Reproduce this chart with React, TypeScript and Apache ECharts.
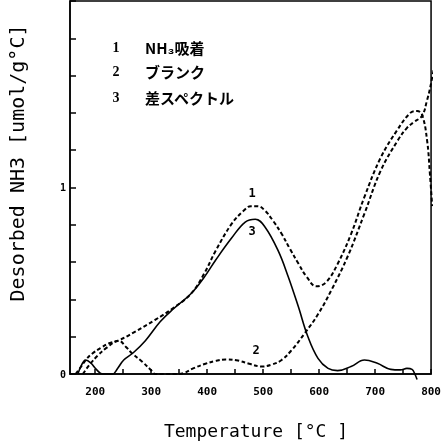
import React, { useEffect, useRef } from "react";
import * as echarts from "echarts";

// Curve 1: NH3 adsorption (dashed)
const curve1X = [165, 175, 183, 195, 210, 225, 242, 270, 307, 340, 371, 395, 415, 444, 465, 478, 490, 503, 518, 533, 548, 563, 578, 595, 613, 633, 657, 681, 710, 740, 763, 775, 784, 793, 798, 802];
const curve1Y = [0, 0.04, 0.075, 0.11, 0.14, 0.165, 0.18, 0.225, 0.29, 0.355, 0.43, 0.54, 0.66, 0.806, 0.875, 0.9, 0.9, 0.877, 0.82, 0.752, 0.67, 0.592, 0.52, 0.47, 0.494, 0.59, 0.75, 0.95, 1.16, 1.31, 1.4, 1.41, 1.39, 1.25, 1.07, 0.9];

// Curve 2: blank (dashed)
const curve2X = [178, 190, 205, 220, 242, 255, 266, 284, 300, 307, 345, 358, 375, 397, 415, 433, 455, 475, 498, 515, 533, 551, 574, 598, 622, 651, 681, 710, 740, 757, 769, 784, 793, 798, 811];
const curve2Y = [0, 0.05, 0.1, 0.14, 0.178, 0.145, 0.11, 0.066, 0.02, 0, 0, 0.005, 0.03, 0.055, 0.07, 0.078, 0.072, 0.055, 0.04, 0.05, 0.075, 0.128, 0.217, 0.32, 0.45, 0.63, 0.86, 1.09, 1.25, 1.32, 1.35, 1.385, 1.47, 1.53, 1.73];

// Curve 3: difference spectrum (solid)
const curve3X = [169, 176, 183, 192, 202, 213, 231, 240, 251, 268, 290, 316, 340, 371, 395, 415, 444, 468, 486, 503, 527, 545, 563, 580, 598, 616, 633, 657, 681, 704, 728, 745, 757, 766, 771, 775];
const curve3Y = [0, 0.05, 0.075, 0.06, 0.025, 0, 0, 0.03, 0.075, 0.114, 0.18, 0.28, 0.35, 0.43, 0.52, 0.61, 0.73, 0.815, 0.83, 0.79, 0.66, 0.52, 0.36, 0.2, 0.084, 0.03, 0.018, 0.04, 0.075, 0.057, 0.025, 0.022, 0.03, 0.025, 0, -0.03];

const xTickLabels = [200, 300, 400, 500, 600, 700, 800];
const xTicks = [200, 250, 300, 350, 400, 450, 500, 550, 600, 650, 700, 750, 800];

const legendNums = ["1", "2", "3"];
const legendTexts = ["NH₃吸着", "ブランク", "差スペクトル"];

const zip = (xs: number[], ys: number[]) => xs.map((x, i) => [x, ys[i]]);

export default function App() {
  const ref = useRef<HTMLDivElement>(null);
  useEffect(() => {
    if (!ref.current) return;
    const chart = echarts.init(ref.current, null, { renderer: "svg" });
    const mono = '"DejaVu Sans Mono", monospace';
    const jp = '"Noto Sans CJK JP", sans-serif';
    const legendY = [47, 71, 97];
    const graphic: any[] = [];
    legendNums.forEach((n, i) => {
      graphic.push({
        type: "text",
        x: 116,
        y: legendY[i],
        style: { text: n, fontSize: 14, fontWeight: "bold", fontFamily: "Liberation Serif, serif", fill: "#000", textAlign: "center", textVerticalAlign: "middle" },
      });
      graphic.push({
        type: "text",
        x: 145,
        y: legendY[i],
        style: { text: legendTexts[i], fontSize: 15, fontWeight: "bold", fontFamily: jp, fill: "#000", textAlign: "left", textVerticalAlign: "middle" },
      });
    });
    graphic.push(
      { type: "text", x: 252, y: 193, style: { text: "1", fontSize: 12, fontWeight: "bold", fontFamily: mono, fill: "#000", textAlign: "center", textVerticalAlign: "middle" } },
      { type: "text", x: 252, y: 231, style: { text: "3", fontSize: 12, fontWeight: "bold", fontFamily: mono, fill: "#000", textAlign: "center", textVerticalAlign: "middle" } },
      { type: "text", x: 256, y: 350, style: { text: "2", fontSize: 12, fontWeight: "bold", fontFamily: mono, fill: "#000", textAlign: "center", textVerticalAlign: "middle" } },
      { type: "text", x: 17, y: 163, rotation: Math.PI / 2, style: { text: "Desorbed NH3 [umol/g°C]", fontSize: 20, fontFamily: mono, fill: "#000", textAlign: "center", textVerticalAlign: "middle" } },
      { type: "text", x: 256, y: 430, style: { text: "Temperature [°C ]", fontSize: 18, fontFamily: mono, fill: "#000", textAlign: "center", textVerticalAlign: "middle" } }
    );

    chart.setOption({
      animation: false,
      grid: { left: 70, right: 9, top: 1, bottom: 68, show: true, borderColor: "#000", borderWidth: 1.5, backgroundColor: "transparent" },
      xAxis: {
        type: "value",
        min: 155,
        max: 800,
        axisLine: { show: true, lineStyle: { color: "#000", width: 1.5 } },
        axisTick: { show: true, inside: true, length: 5, customValues: xTicks, lineStyle: { color: "#000", width: 1.5 } },
        axisLabel: { customValues: xTickLabels, color: "#000", fontFamily: mono, fontWeight: "bold", fontSize: 11, margin: 12, formatter: (v: number) => String(v) },
        splitLine: { show: false },
      },
      yAxis: {
        type: "value",
        min: 0,
        max: 2,
        interval: 0.2,
        axisLine: { show: true, lineStyle: { color: "#000", width: 1.5 } },
        axisTick: { show: true, inside: true, length: 6, lineStyle: { color: "#000", width: 1.5 } },
        axisLabel: {
          color: "#000", fontFamily: mono, fontWeight: "bold", fontSize: 10, margin: 4,
          formatter: (v: number) => (Math.abs(v) < 1e-9 ? "0" : Math.abs(v - 1) < 1e-9 ? "1" : ""),
        },
        splitLine: { show: false },
      },
      graphic,
      series: [
        { type: "line", data: zip(curve1X, curve1Y), smooth: 0.4, symbol: "none", clip: false, lineStyle: { color: "#000", width: 2, type: [4, 2.5] } },
        { type: "line", data: zip(curve2X, curve2Y), smooth: 0.4, symbol: "none", clip: false, lineStyle: { color: "#000", width: 2, type: [4, 2.5] } },
        { type: "line", data: zip(curve3X, curve3Y), smooth: 0.4, symbol: "none", clip: false, lineStyle: { color: "#000", width: 1.6 } },
      ],
    });
    return () => chart.dispose();
  }, []);
  return <div ref={ref} style={{ position: "fixed", left: 0, top: 0, width: 444, height: 442 }} />;
}
